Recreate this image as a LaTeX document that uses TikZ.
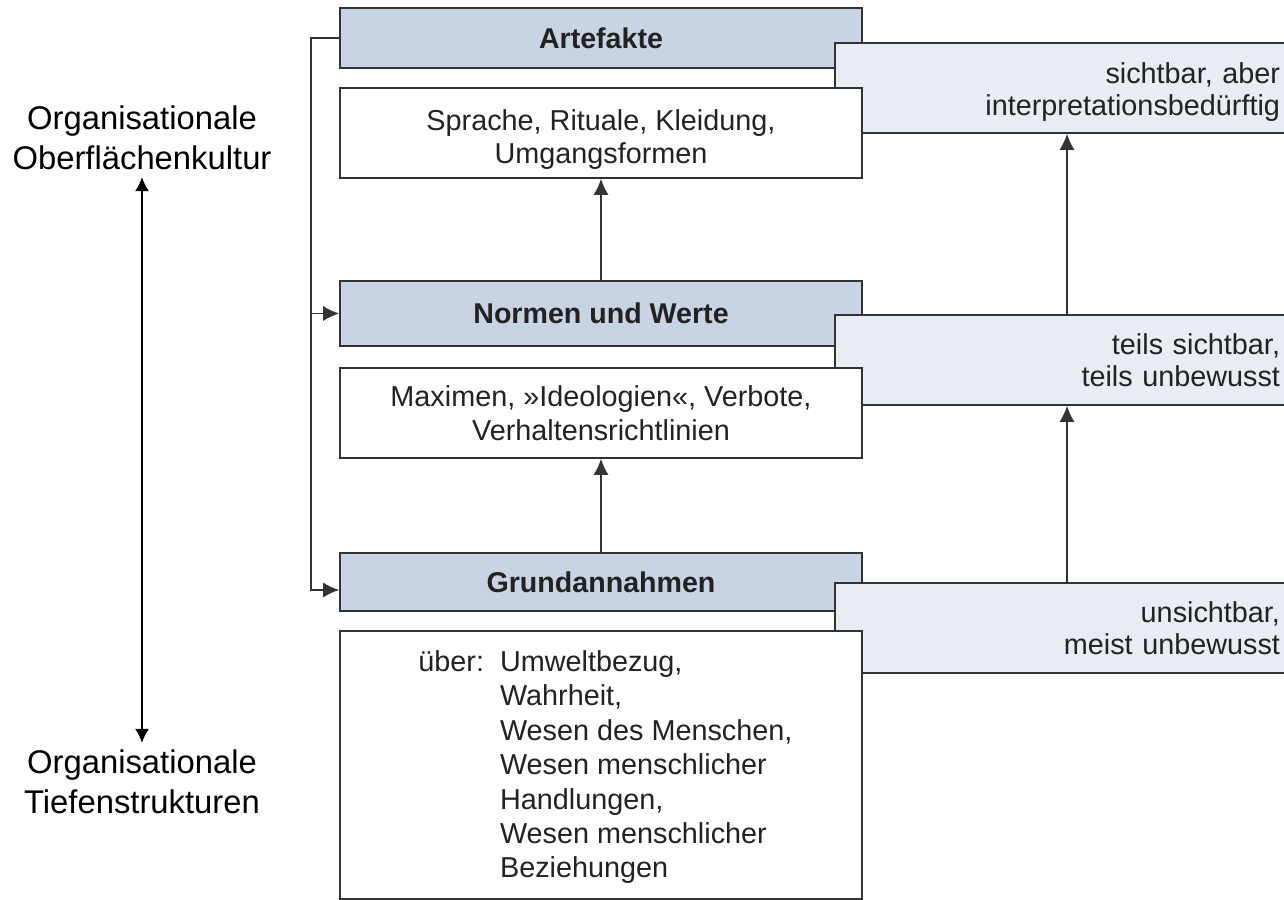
\documentclass[tikz,border=0pt]{standalone}
\usepackage{fontspec}
\setmainfont{Liberation Sans}
\usetikzlibrary{positioning}
\usetikzlibrary{arrows.meta}
\usetikzlibrary{calc}

\definecolor{kopfblau}{HTML}{C8D3E4}
\definecolor{hellblau}{HTML}{E8ECF3}
\definecolor{linie}{HTML}{333333}
\definecolor{schrift}{HTML}{222222}

\begin{document}
\begin{tikzpicture}[x=0.5pt, y=-0.5pt,
        kopf/.style={draw=linie, line width=0.8pt, fill=kopfblau, minimum width=261pt, inner sep=0pt,
            font=\bfseries\fontsize{14.3}{17}\selectfont, text=schrift},
        inhalt/.style={draw=linie, line width=0.8pt, fill=white, minimum width=261pt, inner sep=0pt,
            align=center, font=\fontsize{14.4}{16.8}\selectfont, text=schrift},
        sicht/.style={draw=linie, line width=0.8pt, fill=hellblau, minimum width=232pt, inner xsep=9.5pt,
            text width=213pt, align=right, font=\fontsize{14.4}{16.2}\selectfont, text=schrift},
        pfeil/.style={-{Latex[length=8pt,width=7.5pt]}, draw=linie, line width=0.8pt},
        ebene/.style={align=center, font=\fontsize{16.4}{20}\selectfont}]
        \useasboundingbox (0,0) rectangle (1284,899);
        \clip (0,0) rectangle (1284,899);

        \node[kopf, minimum height=30pt] (artefakte) at (601,38) {Artefakte};
        \node[kopf, minimum height=32.5pt] (normen) at (601,313.5) {Normen und Werte};
        \node[kopf, minimum height=29pt] (grund) at (601,582) {Grundannahmen};

        \node[sicht, minimum height=45pt] (sicht1) at (1067,88) {\rule{0pt}{14.5pt}sichtbar, aber\\interpretationsbedürftig};
        \node[sicht, minimum height=45pt] (sicht2) at (1067,360) {teils sichtbar,\\teils unbewusst};
        \node[sicht, minimum height=45pt] (sicht3) at (1067,628) {unsichtbar,\\meist unbewusst};

        \node[inhalt, minimum height=45pt] (inhalt1) at (601,133) {\rule{0pt}{17pt}Sprache, Rituale, Kleidung,\\Umgangsformen};
        \node[inhalt, minimum height=45pt] (inhalt2) at (601,413) {Maximen, »Ideologien«, Verbote,\\Verhaltensrichtlinien};
        \node[inhalt, minimum height=134pt, anchor=north] (inhalt3) at (601,630) {};
        \node[anchor=north west, inner sep=0pt, font=\fontsize{14.4}{17.2}\selectfont, text=schrift] (ueber) at (418,647) {%
            \begin{tabular}{@{}l@{\hspace{8pt}}l@{}}
                über: & Umweltbezug,\\
                & Wahrheit,\\
                & Wesen des Menschen,\\
                & Wesen menschlicher\\
                & Handlungen,\\
                & Wesen menschlicher\\
                & Beziehungen
            \end{tabular}};

        \draw[pfeil] (normen.north) -- (inhalt1.south);
        \draw[pfeil] (grund.north) -- (inhalt2.south);
        \draw[pfeil] (sicht2.north) -- (sicht1.south);
        \draw[pfeil] (sicht3.north) -- (sicht2.south);

        \coordinate (ecke) at (311,590);
        \draw[pfeil] (artefakte.west) -| (ecke) -- (ecke -| grund.west);
        \draw[pfeil] (artefakte.west -| ecke) |- (normen.west);

        \node[ebene] (ober) at (142,138) {Organisationale\\Oberflächenkultur};
        \node[ebene] (tief) at (142,782) {Organisationale\\Tiefenstrukturen};
        \draw[{Latex[length=7pt,width=7pt]}-{Latex[length=7pt,width=7pt]}, line width=0.8pt] (ober) -- (tief);
    \end{tikzpicture}
\end{document}
